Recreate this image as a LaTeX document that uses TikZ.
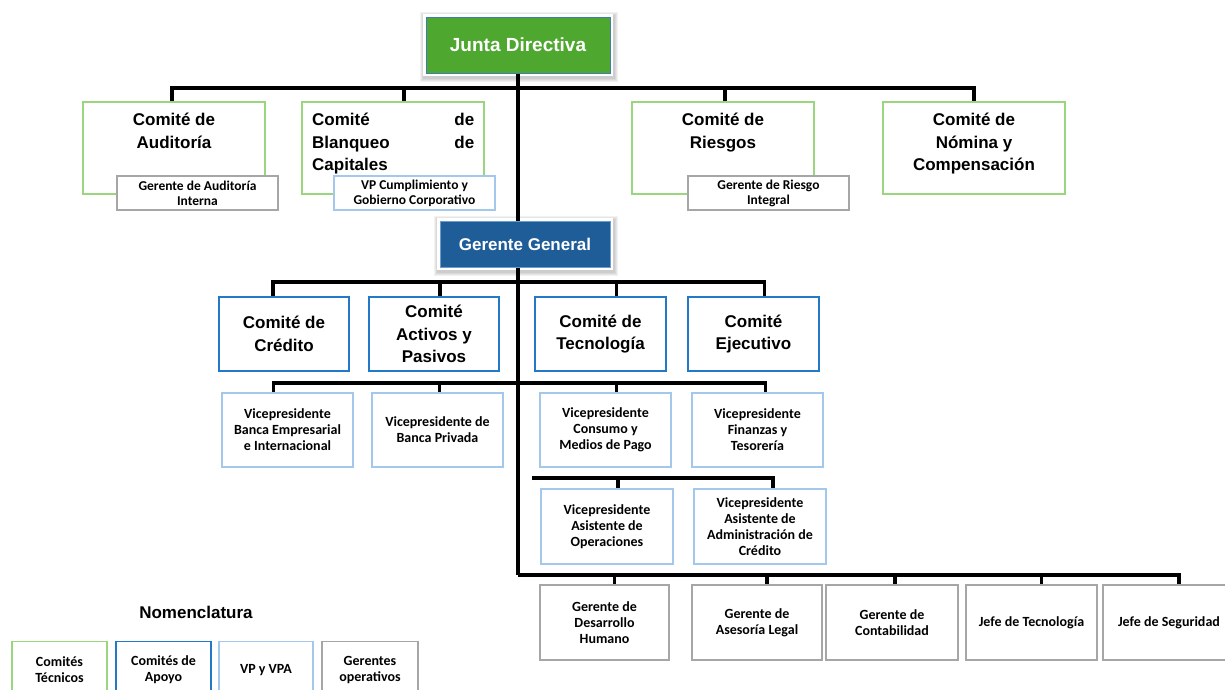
\documentclass[tikz,border=0pt]{standalone}
\usepackage{fontspec}
\setmainfont{Liberation Sans}
\newfontfamily\calfont{Carlito}
\definecolor{jdgreen}{HTML}{4EA72E}
\definecolor{jdline}{HTML}{3E7CB1}
\definecolor{ggblue}{HTML}{1F5D99}
\definecolor{ggline}{HTML}{6C9BD2}
\definecolor{ctgreen}{HTML}{9AD67E}
\definecolor{cablue}{HTML}{2378C8}
\definecolor{vpblue}{HTML}{A4C8EC}
\definecolor{gogray}{HTML}{A6A6A6}
\pgfdeclarelayer{bg}
\pgfsetlayers{bg,main}
\tikzset{
  box/.style={draw, line width=1.6pt, fill=white, inner sep=0pt, outer sep=0pt, align=center},
  tec/.style={box, draw=ctgreen},
  apo/.style={box, draw=cablue, font=\fontsize{17}{22.5}\selectfont\bfseries},
  vpb/.style={box, draw=vpblue, font=\calfont\fontsize{14}{16}\selectfont\bfseries},
  ger/.style={box, draw=gogray, font=\calfont\fontsize{14}{16}\selectfont\bfseries},
  subg/.style={box, draw=gogray, font=\calfont\fontsize{13.5}{15}\selectfont\bfseries},
  subv/.style={box, draw=vpblue, font=\calfont\fontsize{13.5}{15}\selectfont\bfseries},
  ctext/.style={inner sep=0pt, align=center, font=\fontsize{17}{22.5}\selectfont\bfseries},
  headbox/.style={inner sep=0pt, outer sep=0pt, text=white, font=\bfseries},
  halo/.style={fill=black, opacity=0.05},
  legbox/.style={box, font=\calfont\fontsize{14}{16}\selectfont\bfseries},
  conn/.style={line width=3.2pt, black, line join=miter}
}
\begin{document}
\begin{tikzpicture}[x=1pt,y=-1pt]
\useasboundingbox (0,0) rectangle (1225,689);

% top level
\node[headbox, fill=jdgreen, draw=jdline, line width=0.8pt, minimum width=184pt, minimum height=56pt,
  font=\fontsize{19}{22}\selectfont\bfseries] (jd) at (518,45) {Junta Directiva};

% technical committees
\node[tec, minimum width=182pt, minimum height=92pt] (ca) at (174,148) {};
\node[tec, minimum width=182pt, minimum height=92pt] (cb) at (393,148) {};
\node[tec, minimum width=182pt, minimum height=92pt] (cr) at (723,148) {};
\node[tec, minimum width=182pt, minimum height=92pt] (cn) at (974,148) {};
\node[ctext, anchor=north] (cat) at (174,113) {Comité de\\Auditoría};
\node[ctext, anchor=north west, align=left] (cbt) at (312,113)
  {\makebox[162pt]{Comité\hfill de}\\\makebox[162pt]{Blanqueo\hfill de}\\\makebox[162pt][l]{Capitales}};
\node[ctext, anchor=north] (crt) at (723,113) {Comité de\\Riesgos};
\node[ctext, anchor=north] (cnt) at (974,113) {Comité de\\Nómina y\\Compensación};

\node[subg, minimum width=161pt, minimum height=34pt] (ga) at (197.5,193) {Gerente de Auditoría\\Interna};
\node[subv, minimum width=161pt, minimum height=34pt] (vc) at (414.5,193) {VP Cumplimiento y\\Gobierno Corporativo};
\node[subg, minimum width=161pt, minimum height=34pt] (gr) at (768.5,193) {Gerente de Riesgo\\Integral};

% general manager
\node[headbox, fill=ggblue, draw=ggline, line width=0.8pt, minimum width=170pt, minimum height=46pt,
  font=\fontsize{17}{20}\selectfont\bfseries] (gg) at (525,244) {Gerente General};

% support committees
\node[apo, minimum width=130pt, minimum height=74pt] (cc) at (284,334) {Comité de\\Crédito};
\node[apo, minimum width=130pt, minimum height=74pt] (cap) at (434,334) {Comité\\Activos y\\Pasivos};
\node[apo, minimum width=131pt, minimum height=74pt] (ct) at (600.5,334) {Comité de\\Tecnología};
\node[apo, minimum width=131pt, minimum height=74pt] (ce) at (753.5,334) {Comité\\Ejecutivo};

% VPs
\node[vpb, minimum width=131pt, minimum height=74pt] (v1) at (287.5,430) {Vicepresidente\\Banca Empresarial\\e Internacional};
\node[vpb, minimum width=131pt, minimum height=74pt] (v2) at (437.5,430) {Vicepresidente de\\Banca Privada};
\node[vpb, minimum width=131pt, minimum height=74pt] (v3) at (605.5,430) {Vicepresidente\\Consumo y\\Medios de Pago};
\node[vpb, minimum width=131pt, minimum height=74pt] (v4) at (757.5,430) {Vicepresidente\\Finanzas y\\Tesorería};

\node[vpb, minimum width=132pt, minimum height=75pt] (va1) at (607,526.5) {Vicepresidente\\Asistente de\\Operaciones};
\node[vpb, minimum width=132pt, minimum height=75pt] (va2) at (760,526.5) {Vicepresidente\\Asistente de\\Administración de\\Crédito};

% operating managers
\node[ger, minimum width=129pt, minimum height=75pt] (g1) at (604.5,622.5) {Gerente de\\Desarrollo\\Humano};
\node[ger, minimum width=130pt, minimum height=75pt] (g2) at (757,622.5) {Gerente de\\Asesoría Legal};
\node[ger, minimum width=132pt, minimum height=75pt] (g3) at (892,622.5) {Gerente de\\Contabilidad};
\node[ger, minimum width=131pt, minimum height=75pt] (g4) at (1031.5,622.5) {Jefe de Tecnología};
\node[ger, minimum width=132pt, minimum height=75pt] (g5) at (1169,622.5) {Jefe de Seguridad};

% legend
\node[inner sep=0pt, font=\fontsize{17}{20}\selectfont\bfseries] (nom) at (196,612) {Nomenclatura};
\node[legbox, draw=ctgreen, minimum width=95pt, minimum height=57pt] (l1) at (59.5,670) {Comités\\Técnicos};
\node[legbox, draw=cablue, minimum width=95pt, minimum height=57pt] (l2) at (163.5,670) {Comités de\\Apoyo};
\node[legbox, draw=vpblue, minimum width=94pt, minimum height=57pt] (l3) at (266,670) {VP y VPA};
\node[legbox, draw=gogray, minimum width=96pt, minimum height=57pt] (l4) at (370,670) {Gerentes\\operativos};

% connectors
\coordinate (bar1) at (518,88);
\coordinate (bar2) at (518,282);
\coordinate (bar3) at (518,383);
\coordinate (bar4) at (532,478);
\coordinate (bar5) at (518,575);
\begin{pgfonlayer}{bg}
\fill[white] (0,0) rectangle (1225,689);
% soft shadows of the two head boxes
\foreach \g in {7,6,5,4} {
  \fill[halo] ([xshift=-\g pt+1pt, yshift=\g pt-2pt]jd.north west) rectangle ([xshift=\g pt+1pt, yshift=-\g pt-2pt]jd.south east);
  \fill[halo] ([xshift=-\g pt+1pt, yshift=\g pt-2pt]gg.north west) rectangle ([xshift=\g pt+1pt, yshift=-\g pt-2pt]gg.south east);
}
\fill[white] ([xshift=-3pt, yshift=3pt]jd.north west) rectangle ([xshift=3pt, yshift=-3pt]jd.south east);
\fill[white] ([xshift=-3pt, yshift=3pt]gg.north west) rectangle ([xshift=3pt, yshift=-3pt]gg.south east);
\draw[conn] (jd.south) -- (bar5);
\draw[conn] ([xshift=-2pt]ca.north) |- (bar1) -| (cn.north);
\draw[conn] ([xshift=11pt]cb.north) -- ([xshift=11pt]cb.north |- bar1);
\draw[conn] ([xshift=2pt]cr.north) -- ([xshift=2pt]cr.north |- bar1);

\draw[conn] ([xshift=-11pt]cc.north) |- (bar2) -| ([xshift=11pt]ce.north);
\draw[conn] ([xshift=6pt]cap.north) -- ([xshift=6pt]cap.north |- bar2);
\draw[conn] ([xshift=16pt]ct.north) -- ([xshift=16pt]ct.north |- bar2);

\draw[conn] ([xshift=-14pt]v1.north) |- (bar3) -| ([xshift=8pt]v4.north);
\draw[conn] ([xshift=2pt]v2.north) -- ([xshift=2pt]v2.north |- bar3);
\draw[conn] ([xshift=11pt]v3.north) -- ([xshift=11pt]v3.north |- bar3);

\draw[conn] (bar4) -| ([xshift=13pt]va2.north);
\draw[conn] ([xshift=11pt]va1.north) -- ([xshift=11pt]va1.north |- bar4);

\draw[conn] (bar5) -| ([xshift=10pt]g5.north);
\draw[conn] ([xshift=10pt]g1.north) -- ([xshift=10pt]g1.north |- bar5);
\draw[conn] ([xshift=10pt]g2.north) -- ([xshift=10pt]g2.north |- bar5);
\draw[conn] ([xshift=3pt]g3.north) -- ([xshift=3pt]g3.north |- bar5);
\draw[conn] ([xshift=10pt]g4.north) -- ([xshift=10pt]g4.north |- bar5);
\end{pgfonlayer}
\end{tikzpicture}
\end{document}
